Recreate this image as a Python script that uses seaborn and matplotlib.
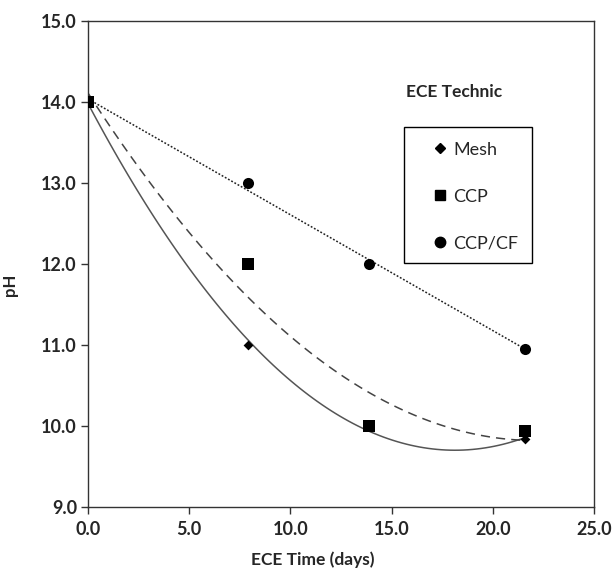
import matplotlib
matplotlib.use("Agg")
import matplotlib.pyplot as plt
from matplotlib.lines import Line2D
from matplotlib.patches import Rectangle
import seaborn as sns
import pandas as pd

# Data
days = [0.0, 7.9, 13.9, 21.6]
mesh_ph = [14.0, 11.0, 10.0, 9.84]
ccp_ph = [14.0, 12.0, 10.0, 9.94]
ccpcf_ph = [14.0, 13.0, 12.0, 10.95]
series_names = ["Mesh", "CCP", "CCP/CF"]
x_ticks = [0.0, 5.0, 10.0, 15.0, 20.0, 25.0]
y_ticks = [9.0, 10.0, 11.0, 12.0, 13.0, 14.0, 15.0]

df = pd.DataFrame({
    "days": days * 3,
    "pH": mesh_ph + ccp_ph + ccpcf_ph,
    "series": [s for s in series_names for _ in days],
})

sns.set_theme(style="white")
plt.rcParams["font.family"] = ["Lato", "DejaVu Sans"]

fig = plt.figure(figsize=(6.13, 5.71), dpi=100)
ax = fig.add_axes([0.1436, 0.112, 0.8254, 0.851])

styles = {
    "Mesh": dict(order=2, ls="-", color="#555555", marker="D", ms=5),
    "CCP": dict(order=2, ls=(0, (6, 4)), color="#444444", marker="s", ms=8),
    "CCP/CF": dict(order=1, ls=(0, (1.2, 1.2)), color="#222222", marker="o", ms=8),
}

for name in series_names:
    st = styles[name]
    sub = df[df["series"] == name]
    sns.regplot(data=sub, x="days", y="pH", order=st["order"], ci=None,
                scatter=False, truncate=True, ax=ax,
                line_kws=dict(color=st["color"], lw=1.1, ls=st["ls"]))

for name in ["CCP/CF", "Mesh", "CCP"]:
    st = styles[name]
    sub = df[df["series"] == name]
    sns.scatterplot(data=sub, x="days", y="pH", marker=st["marker"],
                    s=st["ms"] ** 2, color="black", edgecolor="black",
                    linewidth=0, ax=ax, legend=False, zorder=5)

ax.set_xlim(0, 25)
ax.set_ylim(9, 15)
ax.set_xticks(x_ticks)
ax.set_yticks(y_ticks)
ax.set_xticklabels([f"{v:.1f}" for v in x_ticks], fontweight="bold", fontsize=13)
ax.set_yticklabels([f"{v:.1f}" for v in y_ticks], fontweight="bold", fontsize=13)
ax.tick_params(axis="both", direction="out", length=5, width=1, color="#333333",
               bottom=True, left=True, top=False, right=False)
ax.tick_params(axis="x", pad=5)
ax.tick_params(axis="y", pad=3)
for sp in ax.spines.values():
    sp.set_visible(True)
    sp.set_color("#333333")
    sp.set_linewidth(1)

ax.set_xlabel("ECE Time (days)", fontweight="bold", fontsize=12.5)
ax.set_ylabel("pH", fontweight="bold", fontsize=12)
ax.xaxis.set_label_coords(0.445, -0.092)
ax.yaxis.set_label_coords(-0.138, 0.457)

ax.text(15.7, 14.12, "ECE Technic", fontweight="bold", fontsize=12.5,
        va="center", ha="left")

ax.add_patch(Rectangle((0.625, 0.502), 0.253, 0.28, transform=ax.transAxes,
                       fill=False, edgecolor="black", lw=1, zorder=6))

handles = [
    Line2D([], [], ls="none", marker="D", ms=5, color="black"),
    Line2D([], [], ls="none", marker="s", ms=7.5, color="black"),
    Line2D([], [], ls="none", marker="o", ms=7.5, color="black"),
]
leg = ax.legend(handles, series_names, loc="upper left",
                bbox_to_anchor=(0.682, 0.752), frameon=False,
                fontsize=13, labelspacing=1.72,
                handlelength=0.8, handletextpad=0.3, borderpad=0,
                borderaxespad=0)

fig.savefig("out.png", dpi=100)
